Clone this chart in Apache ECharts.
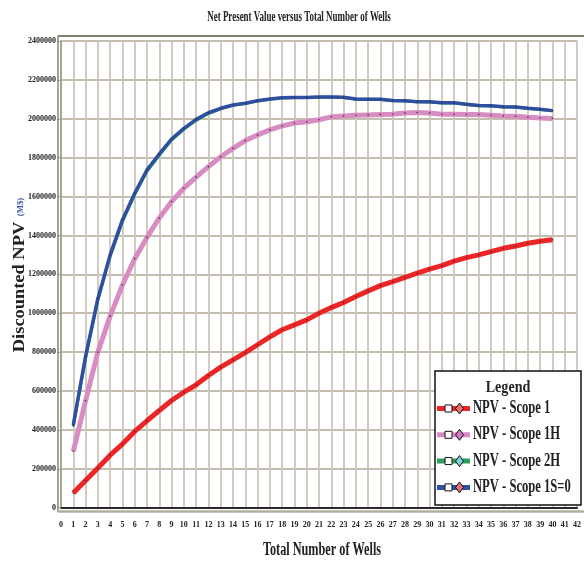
<!DOCTYPE html>
<html>
<head>
<meta charset="utf-8">
<script src="https://cdn.jsdelivr.net/npm/echarts@6/dist/echarts.min.js"></script>
<style>
  html, body { margin: 0; padding: 0; background: #fff; }
  #chart { width: 584px; height: 563px; }
</style>
</head>
<body>
<div id="chart"></div>
<script>
// number of wells on the x axis
const wells = [1, 2, 3, 4, 5, 6, 7, 8, 9, 10, 11, 12, 13, 14, 15, 16, 17, 18, 19, 20,
  21, 22, 23, 24, 25, 26, 27, 28, 29, 30, 31, 32, 33, 34, 35, 36, 37, 38, 39, 40];

// discounted NPV (M$)
const scope1 = [75000, 140000, 204000, 270000, 327000, 392000, 447000, 500000, 551000, 594000,
  632000, 680000, 723000, 760000, 798000, 838000, 878000, 915000, 940000, 966000,
  1000000, 1029000, 1055000, 1086000, 1115000, 1142000, 1163000, 1185000, 1206000, 1227000,
  1245000, 1268000, 1286000, 1300000, 1317000, 1334000, 1346000, 1360000, 1370000, 1378000];
const scope1H = [290000, 550000, 800000, 985000, 1145000, 1280000, 1390000, 1490000, 1575000, 1643000,
  1700000, 1754000, 1805000, 1848000, 1888000, 1917000, 1943000, 1963000, 1978000, 1985000,
  1995000, 2010000, 2014000, 2018000, 2020000, 2022000, 2023000, 2030000, 2032000, 2030000,
  2023000, 2023000, 2022000, 2022000, 2018000, 2014000, 2013000, 2008000, 2004000, 2002000];
const scope2H = [420000, 770000, 1068000, 1292000, 1472000, 1610000, 1730000, 1812000, 1890000, 1946000,
  1992000, 2027000, 2051000, 2069000, 2078000, 2092000, 2101000, 2107000, 2109000, 2109000,
  2111000, 2111000, 2110000, 2101000, 2100000, 2099000, 2093000, 2092000, 2087000, 2086000,
  2081000, 2081000, 2074000, 2067000, 2066000, 2061000, 2060000, 2053000, 2048000, 2041000];
const scope1S0 = [425000, 778000, 1075000, 1300000, 1480000, 1617000, 1737000, 1819000, 1896000, 1951000,
  1997000, 2031000, 2054000, 2071000, 2080000, 2093000, 2102000, 2108000, 2110000, 2110000,
  2112000, 2112000, 2111000, 2102000, 2101000, 2100000, 2094000, 2093000, 2088000, 2087000,
  2082000, 2082000, 2075000, 2068000, 2067000, 2062000, 2061000, 2054000, 2049000, 2042000];

const seriesNames = ['NPV - Scope 1', 'NPV - Scope 1H', 'NPV - Scope 2H', 'NPV - Scope 1S=0'];
const seriesValues = [scope1, scope1H, scope2H, scope1S0];
const lineColors = ['#ee2526', '#d98cc2', '#2e9e5e', '#2f50a2'];
const lineWidths = [5, 5, 3, 3.5];
const diamondColors = ['#e8707a', '#d077c2', '#7fd0de', '#e4707a'];

const serif = 'Liberation Serif, Times New Roman, serif';

const chart = echarts.init(document.getElementById('chart'));

const series = seriesValues.map((vals, i) => ({
  name: seriesNames[i],
  type: 'line',
  data: wells.map((w, k) => [w, vals[k]]),
  symbol: 'circle',
  symbolSize: 1.6,
  showSymbol: true,
  itemStyle: { color: '#333' },
  lineStyle: { color: lineColors[i], width: lineWidths[i] },
  z: 3 + i,
  animation: false
}));

// legend box, built by hand to get the line + square + diamond swatch
const legendGraphics = [
  { type: 'rect', shape: { x: 435, y: 371, width: 146, height: 134 },
    style: { fill: '#fff', stroke: '#111', lineWidth: 1.5 }, z: 100 },
  { type: 'text', x: 508, y: 388, scaleX: 0.88, z: 101,
    style: { text: 'Legend', fontSize: 16, fontWeight: 'bold', fontFamily: serif, fill: '#222',
      align: 'center', verticalAlign: 'middle', textAlign: 'center', textVerticalAlign: 'middle' } }
];
seriesNames.forEach((name, i) => {
  const cy = 408.5 + i * 26.3;
  legendGraphics.push(
    { type: 'line', shape: { x1: 437, y1: cy, x2: 470, y2: cy },
      style: { stroke: lineColors[i], lineWidth: 5 }, z: 101 },
    { type: 'rect', shape: { x: 445, y: cy - 3.5, width: 7, height: 7 },
      style: { fill: '#fff', stroke: '#111', lineWidth: 1 }, z: 102 },
    { type: 'polygon', shape: { points: [[459.5, cy - 5.5], [463.5, cy], [459.5, cy + 5.5], [455.5, cy]] },
      style: { fill: diamondColors[i], stroke: '#111', lineWidth: 1 }, z: 102 },
    { type: 'text', x: 473, y: cy, scaleX: 0.7, z: 101,
      style: { text: name, fontSize: 18, fontWeight: 'bold', fontFamily: serif, fill: '#222',
        align: 'left', verticalAlign: 'middle', textAlign: 'left', textVerticalAlign: 'middle' } }
  );
});

const option = {
  animation: false,
  backgroundColor: '#fff',
  grid: { left: 61, right: 2.6, top: 41, bottom: 55.3, containLabel: false },
  xAxis: {
    type: 'value', min: 0, max: 42, interval: 1,
    axisLine: { show: true, lineStyle: { color: '#2a2a2a', width: 2 } },
    axisTick: { show: false },
    axisLabel: { fontSize: 8, fontWeight: 'bold', fontFamily: serif, color: '#222', margin: 13 },
    splitLine: { show: true, lineStyle: { color: '#ccc7bb', width: 1.8 } }
  },
  yAxis: {
    type: 'value', min: 0, max: 2400000, interval: 200000,
    axisLine: { show: true, lineStyle: { color: '#a9a394', width: 2 } },
    axisTick: { show: true, length: 4, lineStyle: { color: '#a9a394' } },
    axisLabel: { fontSize: 8, fontWeight: 'bold', fontFamily: serif, color: '#222', margin: 5,
      formatter: v => String(v) },
    splitLine: { show: true, lineStyle: { color: '#afa896', width: 1.5 } }
  },
  series: series,
  graphic: [
    // bevelled frame round the plot
    { type: 'line', shape: { x1: 58, y1: 36, x2: 584, y2: 36 }, style: { stroke: '#5a5242', lineWidth: 1.5 }, z: 50 },
    { type: 'line', shape: { x1: 58, y1: 36, x2: 58, y2: 512 }, style: { stroke: '#8a8474', lineWidth: 1.5 }, z: 50 },
    { type: 'line', shape: { x1: 58, y1: 511.5, x2: 584, y2: 511.5 }, style: { stroke: '#b3ad9f', lineWidth: 2.5 }, z: 50 },
    // title
    { type: 'text', x: 299, y: 17, scaleX: 0.64,
      style: { text: 'Net Present Value versus Total Number of Wells', fontSize: 14, fontWeight: 'bold',
        fontFamily: serif, fill: '#222', align: 'center', verticalAlign: 'middle',
        textAlign: 'center', textVerticalAlign: 'middle' } },
    // x axis name
    { type: 'text', x: 322, y: 550, scaleX: 0.68,
      style: { text: 'Total Number of Wells', fontSize: 18, fontWeight: 'bold', fontFamily: serif,
        fill: '#222', align: 'center', verticalAlign: 'middle', textAlign: 'center', textVerticalAlign: 'middle' } },
    // y axis name
    { type: 'text', x: 19.5, y: 287, rotation: Math.PI / 2, scaleX: 1.15,
      style: { text: 'Discounted NPV', fontSize: 16, fontWeight: 'bold', fontFamily: serif,
        fill: '#222', align: 'center', verticalAlign: 'middle', textAlign: 'center', textVerticalAlign: 'middle' } },
    { type: 'text', x: 20.5, y: 207, rotation: Math.PI / 2, scaleX: 1.1,
      style: { text: '(M$)', fontSize: 8, fontWeight: 'bold', fontFamily: serif,
        fill: '#3a55a5', align: 'center', verticalAlign: 'middle', textAlign: 'center', textVerticalAlign: 'middle' } }
  ].concat(legendGraphics)
};

chart.setOption(option);
</script>
</body>
</html>
